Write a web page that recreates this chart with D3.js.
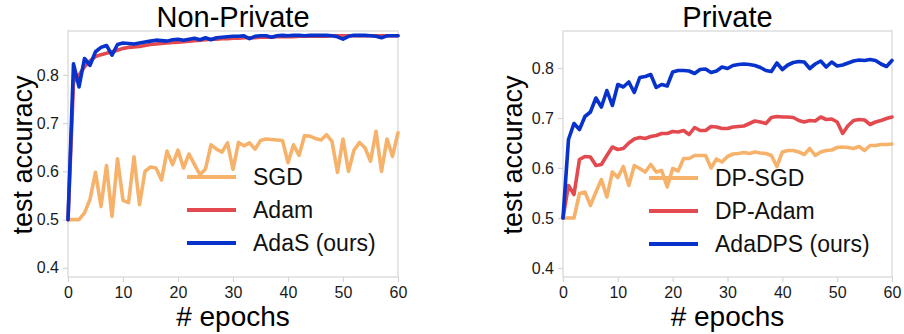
<!DOCTYPE html>
<html>
<head>
<meta charset="utf-8">
<script src="https://cdn.jsdelivr.net/npm/d3@7"></script>
<style>
  html, body { margin: 0; padding: 0; background: #fff; }
  svg { display: block; font-family: "Liberation Sans", Arial, Helvetica, sans-serif; }
</style>
</head>
<body>
<svg id="chart" width="904" height="334"></svg>
<script>
// Test accuracy per epoch (epochs 0..60) for each optimizer.
const epochs = d3.range(0, 61);

const sgd = [0.500,0.500,0.500,0.514,0.542,0.598,0.527,0.612,0.507,0.626,
             0.540,0.535,0.630,0.531,0.600,0.609,0.607,0.582,0.642,0.614,
             0.644,0.607,0.636,0.614,0.593,0.605,0.655,0.646,0.640,0.659,
             0.604,0.660,0.653,0.659,0.646,0.664,0.667,0.666,0.665,0.664,
             0.618,0.655,0.633,0.674,0.673,0.668,0.665,0.676,0.662,0.598,
             0.667,0.600,0.644,0.660,0.649,0.621,0.683,0.600,0.667,0.631,
             0.680];
const adam = [0.500,0.785,0.800,0.817,0.829,0.838,0.842,0.845,0.848,0.851,
              0.855,0.857,0.858,0.859,0.861,0.863,0.864,0.865,0.866,0.867,
              0.868,0.869,0.870,0.871,0.872,0.873,0.874,0.874,0.875,0.875,
              0.876,0.876,0.877,0.877,0.877,0.878,0.878,0.878,0.879,0.879,
              0.879,0.879,0.880,0.880,0.880,0.880,0.880,0.880,0.881,0.881,
              0.881,0.881,0.881,0.881,0.881,0.881,0.881,0.881,0.881,0.881,
              0.881];
const adas = [0.500,0.823,0.775,0.834,0.820,0.848,0.857,0.861,0.841,0.863,
              0.866,0.865,0.864,0.866,0.868,0.870,0.872,0.871,0.870,0.873,
              0.874,0.872,0.874,0.876,0.873,0.877,0.873,0.877,0.878,0.879,
              0.880,0.880,0.881,0.875,0.880,0.881,0.881,0.878,0.881,0.882,
              0.881,0.882,0.882,0.881,0.882,0.882,0.882,0.882,0.881,0.879,
              0.874,0.880,0.882,0.882,0.882,0.881,0.880,0.877,0.881,0.881,
              0.881];

const dpSgd = [0.500,0.500,0.500,0.549,0.552,0.525,0.552,0.577,0.542,0.592,
               0.581,0.603,0.565,0.605,0.599,0.592,0.607,0.592,0.595,0.562,
               0.599,0.594,0.619,0.619,0.625,0.625,0.625,0.600,0.618,0.612,
               0.623,0.628,0.629,0.631,0.629,0.632,0.630,0.629,0.625,0.603,
               0.632,0.635,0.635,0.632,0.627,0.639,0.625,0.632,0.635,0.636,
               0.641,0.642,0.641,0.639,0.643,0.635,0.645,0.645,0.647,0.647,
               0.648];
const dpAdam = [0.500,0.565,0.547,0.617,0.623,0.622,0.605,0.607,0.625,0.642,
                0.637,0.639,0.650,0.658,0.661,0.659,0.663,0.665,0.669,0.669,
                0.673,0.672,0.675,0.667,0.681,0.675,0.675,0.683,0.682,0.679,
                0.679,0.682,0.683,0.684,0.689,0.694,0.692,0.689,0.701,0.703,
                0.702,0.702,0.701,0.695,0.692,0.695,0.694,0.702,0.697,0.698,
                0.692,0.669,0.685,0.695,0.697,0.696,0.687,0.692,0.695,0.699,
                0.702];
const adaDps = [0.500,0.657,0.689,0.677,0.703,0.712,0.740,0.722,0.755,0.725,
                0.767,0.762,0.772,0.751,0.781,0.783,0.787,0.761,0.767,0.764,
                0.792,0.795,0.795,0.794,0.789,0.797,0.798,0.791,0.794,0.802,
                0.799,0.805,0.807,0.808,0.807,0.805,0.801,0.795,0.793,0.810,
                0.797,0.806,0.811,0.813,0.812,0.799,0.808,0.814,0.802,0.812,
                0.804,0.806,0.810,0.814,0.816,0.815,0.817,0.815,0.808,0.803,
                0.815];

const xTicks = [0, 10, 20, 30, 40, 50, 60];
const yTicks = [0.4, 0.5, 0.6, 0.7, 0.8];

const leftNames = ["SGD", "Adam", "AdaS (ours)"];
const rightNames = ["DP-SGD", "DP-Adam", "AdaDPS (ours)"];
const colors = ["#f6b26b", "#e34a4f", "#0733cc"];

const svg = d3.select("#chart");

function drawPanel(opt) {
  const x = d3.scaleLinear().domain([0, 60]).range([opt.left, opt.right]);
  const y = d3.scaleLinear().domain(opt.yDomain).range([opt.bottom, opt.top]);
  const g = svg.append("g");

  // frame
  g.append("rect")
    .attr("x", opt.left).attr("y", opt.top)
    .attr("width", opt.right - opt.left).attr("height", opt.bottom - opt.top)
    .attr("fill", "none").attr("stroke", "#dedede").attr("stroke-width", 1.5);

  // axes
  const yAxis = g.append("g")
    .attr("transform", `translate(${opt.left},0)`)
    .call(d3.axisLeft(y).tickValues(yTicks).tickSize(5).tickPadding(4).tickFormat(d3.format(".1f")));
  const xAxis = g.append("g")
    .attr("transform", `translate(0,${opt.bottom})`)
    .call(d3.axisBottom(x).tickValues(xTicks).tickSize(5).tickPadding(5));
  [xAxis, yAxis].forEach(a => {
    a.select(".domain").remove();
    a.selectAll(".tick line").attr("stroke", "#d6d6d6").attr("stroke-width", 1.2);
    a.selectAll(".tick text").attr("fill", "#1a1a1a").style("font-size", "16px")
      .style("font-family", "'Liberation Sans', Arial, sans-serif");
  });

  // curves
  const line = d3.line().x((d, i) => x(epochs[i])).y(d => y(d));
  opt.series.forEach((s, k) => {
    g.append("path")
      .datum(s)
      .attr("d", line)
      .attr("fill", "none")
      .attr("stroke", colors[k])
      .attr("stroke-width", 3.6)
      .attr("stroke-linejoin", "round")
      .attr("stroke-linecap", "round");
  });

  // legend
  opt.names.forEach((name, k) => {
    const ly = opt.legendY + k * 33;
    g.append("line")
      .attr("x1", opt.legendX).attr("x2", opt.legendX + 49)
      .attr("y1", ly).attr("y2", ly)
      .attr("stroke", colors[k]).attr("stroke-width", 4);
    g.append("text")
      .attr("x", opt.legendX + 66).attr("y", ly).attr("dy", "0.36em")
      .style("font-size", "23px").attr("fill", "#111")
      .text(name);
  });

  // titles
  const cx = (opt.left + opt.right) / 2;
  g.append("text")
    .attr("x", cx).attr("y", 27).attr("text-anchor", "middle")
    .style("font-size", "29px").attr("fill", "#000")
    .text(opt.title);
  g.append("text")
    .attr("x", cx).attr("y", 326).attr("text-anchor", "middle")
    .style("font-size", "28px").attr("fill", "#000")
    .text("# epochs");
  g.append("text")
    .attr("transform", `translate(${opt.yLabelX},155) rotate(-90)`)
    .attr("text-anchor", "middle")
    .style("font-size", "27px").attr("fill", "#000")
    .text("test accuracy");
}

drawPanel({
  left: 68, right: 398, top: 31, bottom: 277,
  yDomain: [0.381, 0.891],
  series: [sgd, adam, adas], names: leftNames,
  legendX: 187, legendY: 177, title: "Non-Private", yLabelX: 32
});

drawPanel({
  left: 563, right: 892, top: 31, bottom: 277,
  yDomain: [0.382, 0.874],
  series: [dpSgd, dpAdam, adaDps], names: rightNames,
  legendX: 649, legendY: 178, title: "Private", yLabelX: 522
});
</script>
</body>
</html>
